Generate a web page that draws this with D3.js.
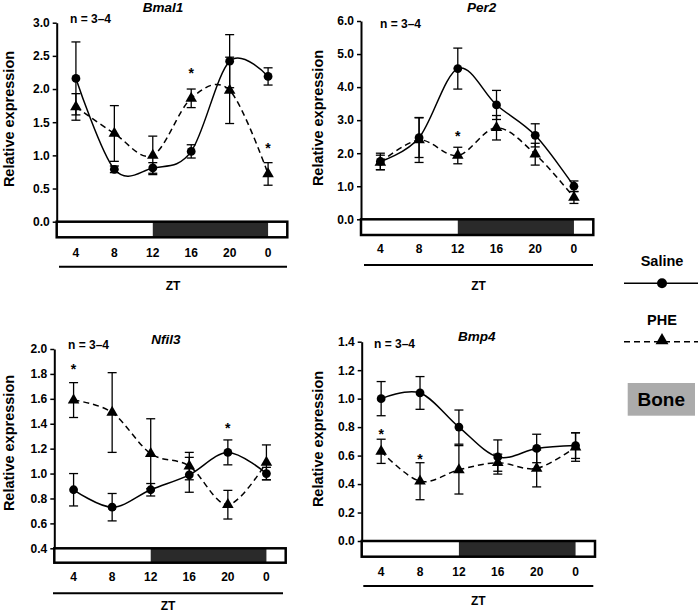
<!DOCTYPE html>
<html>
<head>
<meta charset="utf-8">
<script src="https://cdn.jsdelivr.net/npm/d3@7"></script>
<style>
  html, body { margin: 0; padding: 0; background: #fff; }
  svg text { font-family: "Liberation Sans", Arial, Helvetica, sans-serif; }
</style>
</head>
<body>
<svg id="chart" width="700" height="613"></svg>
<script>
// ---- Data ----
const ztHours = [4, 8, 12, 16, 20, 24];
const ztLabels = ["4", "8", "12", "16", "20", "0"];

const bmal1Saline    = [2.16, 0.79, 0.81, 1.06, 2.42, 2.19];
const bmal1SalineErr = [0.55, 0.05, 0.08, 0.10, 0.40, 0.13];
const bmal1Phe       = [1.73, 1.33, 1.00, 1.86, 1.98, 0.72];
const bmal1PheErr    = [0.20, 0.42, 0.29, 0.14, 0.50, 0.17];
const bmal1Ticks     = [0, 0.5, 1.0, 1.5, 2.0, 2.5, 3.0];
const bmal1Stars     = [{ zt: 16, v: 2.29 }, { zt: 24, v: 1.16 }];

const per2Saline     = [1.75, 2.47, 4.56, 3.46, 2.54, 1.00];
const per2SalineErr  = [0.25, 0.60, 0.62, 0.44, 0.35, 0.16];
const per2Phe        = [1.72, 2.40, 1.93, 2.77, 1.97, 0.66];
const per2PheErr     = [0.22, 0.68, 0.25, 0.37, 0.33, 0.18];
const per2Ticks      = [0, 1, 2, 3, 4, 5, 6];
const per2Stars      = [{ zt: 12, v: 2.61 }];

const nfil3Saline    = [0.87, 0.73, 0.87, 0.99, 1.17, 1.00];
const nfil3SalineErr = [0.13, 0.11, 0.05, 0.14, 0.10, 0.05];
const nfil3Phe       = [1.59, 1.49, 1.16, 1.06, 0.75, 1.09];
const nfil3PheErr    = [0.14, 0.32, 0.28, 0.11, 0.115, 0.14];
const nfil3Ticks     = [0.4, 0.6, 0.8, 1.0, 1.2, 1.4, 1.6, 1.8, 2.0];
const nfil3Stars     = [{ zt: 4, v: 1.86 }, { zt: 20, v: 1.39 }];

const bmp4Saline     = [1.00, 1.04, 0.80, 0.59, 0.65, 0.67];
const bmp4SalineErr  = [0.12, 0.115, 0.12, 0.12, 0.10, 0.09];
const bmp4Phe        = [0.63, 0.42, 0.50, 0.55, 0.51, 0.66];
const bmp4PheErr     = [0.085, 0.13, 0.17, 0.06, 0.13, 0.10];
const bmp4Ticks      = [0, 0.2, 0.4, 0.6, 0.8, 1.0, 1.2, 1.4];
const bmp4Stars      = [{ zt: 4, v: 0.77 }, { zt: 8, v: 0.60 }];

const panelTitles = ["Bmal1", "Per2", "Nfil3", "Bmp4"];
const seriesNames = ["Saline", "PHE"];
const nLabel = "n = 3–4";
const yTitle = "Relative expression";
const xTitle = "ZT";
const tissueLabel = "Bone";

// ---- Layout ----
const panels = [
  { title: panelTitles[0], saline: bmal1Saline, salineErr: bmal1SalineErr, phe: bmal1Phe, pheErr: bmal1PheErr, ticks: bmal1Ticks, stars: bmal1Stars,
    ax: 56.7, right: 287.3, y0: 221.7, yTop: 22.7, barBottom: 237.3, tickLabelY: 253.3, ztLineY: 266.7, ztLineX: [59, 287], ztTextY: 285,
    titleX: 163, titleY: 7, nX: 70, nY: 18, ylabX: 9, ylabY: 119 },
  { title: panelTitles[1], saline: per2Saline, salineErr: per2SalineErr, phe: per2Phe, pheErr: per2PheErr, ticks: per2Ticks, stars: per2Stars,
    ax: 361, right: 593.3, y0: 219.3, yTop: 21, barBottom: 235, tickLabelY: 249.3, ztLineY: 265, ztLineX: [364, 593], ztTextY: 285,
    titleX: 481.7, titleY: 7.3, nX: 380, nY: 23.3, ylabX: 318, ylabY: 118 },
  { title: panelTitles[2], saline: nfil3Saline, salineErr: nfil3SalineErr, phe: nfil3Phe, pheErr: nfil3PheErr, ticks: nfil3Ticks, stars: nfil3Stars,
    ax: 54.3, right: 285.7, y0: 548.3, yTop: 349, barBottom: 562.7, tickLabelY: 576.7, ztLineY: 593.3, ztLineX: [53, 283], ztTextY: 605,
    titleX: 166, titleY: 339, nX: 68, nY: 344, ylabX: 9, ylabY: 443 },
  { title: panelTitles[3], saline: bmp4Saline, salineErr: bmp4SalineErr, phe: bmp4Phe, pheErr: bmp4PheErr, ticks: bmp4Ticks, stars: bmp4Stars,
    ax: 361.7, right: 595, y0: 541, yTop: 341.7, barBottom: 556.7, tickLabelY: 571.7, ztLineY: 586, ztLineX: [363.3, 593.3], ztTextY: 600.5,
    titleX: 476.7, titleY: 336, nX: 374, nY: 343.3, ylabX: 318, ylabY: 439 }
];

const svg = d3.select("#chart");
const curve = d3.curveCardinal.tension(0);
const triangle = d3.symbol().type(d3.symbolTriangle).size(58);
const triangleLegend = d3.symbol().type(d3.symbolTriangle).size(72);

panels.forEach(p => {
  const g = svg.append("g");
  const x = d3.scaleLinear().domain([2, 26]).range([p.ax, p.right]);
  const y = d3.scaleLinear().domain([p.ticks[0], p.ticks[p.ticks.length - 1]]).range([p.y0, p.yTop]);

  // Y axis
  const yAxis = d3.axisLeft(y).tickValues(p.ticks).tickFormat(d3.format(".1f")).tickSize(4).tickSizeOuter(0).tickPadding(3);
  const ya = g.append("g").attr("transform", `translate(${p.ax},0)`).call(yAxis);
  ya.select(".domain").attr("stroke", "#000").attr("stroke-width", 2);
  ya.selectAll(".tick line").attr("stroke", "#000").attr("stroke-width", 1.5);
  ya.selectAll(".tick text").attr("font-size", 12).attr("font-weight", "bold").attr("fill", "#000")
    .attr("font-family", '"Liberation Sans", Arial, sans-serif');

  // Light/dark bar
  const bh = p.barBottom - p.y0;
  g.append("rect").attr("x", p.ax).attr("y", p.y0).attr("width", p.right - p.ax).attr("height", bh).attr("fill", "#fff");
  g.append("rect").attr("x", x(12)).attr("y", p.y0).attr("width", x(24) - x(12)).attr("height", bh).attr("fill", "#2a2a2a");
  g.append("rect").attr("x", p.ax).attr("y", p.y0).attr("width", p.right - p.ax).attr("height", bh)
    .attr("fill", "none").attr("stroke", "#000").attr("stroke-width", 2.5);

  // X labels
  g.selectAll("text.xl").data(ztHours).enter().append("text")
    .attr("x", d => x(d)).attr("y", p.tickLabelY + 4)
    .attr("text-anchor", "middle").attr("font-size", 12).attr("font-weight", "bold")
    .text((d, i) => ztLabels[i]);

  // ZT rule and label
  g.append("line").attr("x1", p.ztLineX[0]).attr("x2", p.ztLineX[1]).attr("y1", p.ztLineY).attr("y2", p.ztLineY)
    .attr("stroke", "#000").attr("stroke-width", 2);
  g.append("text").attr("x", (p.ztLineX[0] + p.ztLineX[1]) / 2).attr("y", p.ztTextY + 4.5)
    .attr("text-anchor", "middle").attr("font-size", 12).attr("font-weight", "bold").text(xTitle);

  // Titles
  g.append("text").attr("x", p.titleX).attr("y", p.titleY + 5).attr("text-anchor", "middle")
    .attr("font-size", 13.5).attr("font-weight", "bold").attr("font-style", "italic").text(p.title);
  g.append("text").attr("x", p.nX).attr("y", p.nY + 4.5).attr("font-size", 12).attr("font-weight", "bold").text(nLabel);
  g.append("text").attr("transform", `translate(${p.ylabX + 5},${p.ylabY}) rotate(-90)`).attr("text-anchor", "middle")
    .attr("font-size", 14.5).attr("font-weight", "bold").text(yTitle);

  // Error bars
  const drawErr = (vals, errs) => {
    vals.forEach((v, i) => {
      const cx = x(ztHours[i]);
      const y1 = y(v + errs[i]), y2 = y(v - errs[i]);
      g.append("line").attr("x1", cx).attr("x2", cx).attr("y1", y1).attr("y2", y2).attr("stroke", "#000").attr("stroke-width", 1.3);
      [y1, y2].forEach(yy => g.append("line").attr("x1", cx - 4.5).attr("x2", cx + 4.5).attr("y1", yy).attr("y2", yy)
        .attr("stroke", "#000").attr("stroke-width", 1.3));
    });
  };
  drawErr(p.saline, p.salineErr);
  drawErr(p.phe, p.pheErr);

  const line = d3.line().x((d, i) => x(ztHours[i])).y(d => y(d)).curve(curve);
  g.append("path").attr("d", line(p.saline)).attr("fill", "none").attr("stroke", "#000").attr("stroke-width", 1.5);
  g.append("path").attr("d", line(p.phe)).attr("fill", "none").attr("stroke", "#000").attr("stroke-width", 1.5)
    .attr("stroke-dasharray", "6,4");

  g.selectAll("circle.s").data(p.saline).enter().append("circle")
    .attr("cx", (d, i) => x(ztHours[i])).attr("cy", d => y(d)).attr("r", 4.4).attr("fill", "#000");
  g.selectAll("path.t").data(p.phe).enter().append("path")
    .attr("d", triangle).attr("transform", (d, i) => `translate(${x(ztHours[i])},${y(d)})`).attr("fill", "#000");

  // Significance stars
  g.selectAll("text.star").data(p.stars).enter().append("text")
    .attr("x", d => x(d.zt)).attr("y", d => y(d.v) + 8).attr("text-anchor", "middle")
    .attr("font-size", 14).attr("font-weight", "bold").text("*");
});

// ---- Legend ----
const lg = svg.append("g");
const lx = 662;
lg.append("text").attr("x", lx).attr("y", 266).attr("text-anchor", "middle").attr("font-size", 14.5).attr("font-weight", "bold").text(seriesNames[0]);
lg.append("line").attr("x1", 624).attr("x2", 698).attr("y1", 283.3).attr("y2", 283.3).attr("stroke", "#000").attr("stroke-width", 1.5);
lg.append("circle").attr("cx", lx).attr("cy", 283.3).attr("r", 5).attr("fill", "#000");
lg.append("text").attr("x", lx).attr("y", 325).attr("text-anchor", "middle").attr("font-size", 14.5).attr("font-weight", "bold").text(seriesNames[1]);
lg.append("line").attr("x1", 624).attr("x2", 698).attr("y1", 341.7).attr("y2", 341.7).attr("stroke", "#000").attr("stroke-width", 1.5).attr("stroke-dasharray", "6,4");
lg.append("path").attr("d", triangleLegend).attr("transform", `translate(${lx},340.5)`).attr("fill", "#000");
lg.append("rect").attr("x", 627.7).attr("y", 383).attr("width", 67.3).attr("height", 32.7).attr("fill", "#ababab");
lg.append("text").attr("x", 661.3).attr("y", 406).attr("text-anchor", "middle").attr("font-size", 19).attr("font-weight", "bold").text(tissueLabel);
</script>
</body>
</html>
